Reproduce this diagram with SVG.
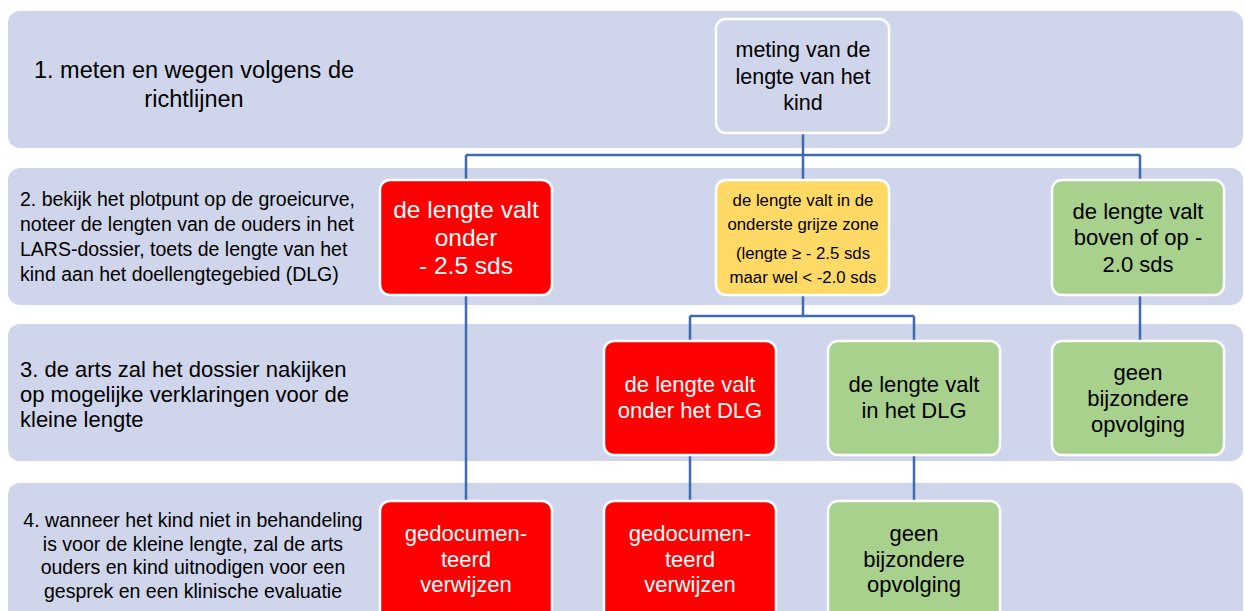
<svg xmlns="http://www.w3.org/2000/svg" width="1245" height="611" viewBox="0 0 1245 611">
<style>
.band{fill:#CFD5EA;}
.node{stroke:#FFFFFF;stroke-width:2.5;}
.red{fill:#FF0000;}
.green{fill:#A9D18E;}
.yellow{fill:#FFD966;}
.blue{fill:#CFD5EA;}
text{font-family:"Liberation Sans",Arial,sans-serif;}
.w{fill:#FFFFFF;}
.k{fill:#000000;}
.c{text-anchor:middle;}
.conn{fill:none;stroke:#3F68B5;stroke-width:2.5;}
</style>
<rect width="1245" height="611" fill="#FFFFFF"/>
<g id="bands">
<rect class="band" x="8" y="11" width="1235" height="137" rx="12"/>
<rect class="band" x="8" y="168" width="1235" height="137" rx="12"/>
<rect class="band" x="8" y="324" width="1235" height="137" rx="12"/>
<rect class="band" x="8" y="483" width="1235" height="150" rx="12"/>
</g>
<g id="step1">
<text class="k c" x="194" y="78" font-size="23.5">1. meten en wegen volgens de</text>
<text class="k c" x="194" y="107" font-size="23.5">richtlijnen</text>
</g>
<g id="step2" font-size="19.5">
<text class="k" x="20" y="206">2. bekijk het plotpunt op de groeicurve,</text>
<text class="k" x="20" y="231">noteer de lengten van de ouders in het</text>
<text class="k" x="20" y="256">LARS-dossier, toets de lengte van het</text>
<text class="k" x="20" y="281">kind aan het doellengtegebied (DLG)</text>
</g>
<g id="step3" font-size="22">
<text class="k" x="20" y="377">3. de arts zal het dossier nakijken</text>
<text class="k" x="20" y="402">op mogelijke verklaringen voor de</text>
<text class="k" x="20" y="427">kleine lengte</text>
</g>
<g id="step4" font-size="19.5">
<text class="k c" x="193" y="527">4. wanneer het kind niet in behandeling</text>
<text class="k c" x="193" y="551">is voor de kleine lengte, zal de arts</text>
<text class="k c" x="193" y="574">ouders en kind uitnodigen voor een</text>
<text class="k c" x="193" y="598">gesprek en een klinische evaluatie</text>
</g>
<g id="connectors">
<path class="conn" d="M803 133 V180 M466 155 H1140 M466 155 V180 M1140 155 V180"/>
<path class="conn" d="M466 295 V501"/>
<path class="conn" d="M803 295 V316 M690 316 H914 M690 316 V341 M914 316 V341"/>
<path class="conn" d="M690 455 V501"/>
<path class="conn" d="M914 455 V501"/>
<path class="conn" d="M1140 295 V341"/>
</g>
<g id="n-meting">
<rect class="node blue" x="716" y="19" width="173" height="114" rx="10"/>
<text class="k c" x="803" y="57" font-size="21.5">meting van de</text>
<text class="k c" x="803" y="84" font-size="21.5">lengte van het</text>
<text class="k c" x="803" y="110" font-size="21.5">kind</text>
</g>
<g id="n-onder25">
<rect class="node red" x="380" y="180" width="172" height="115" rx="10"/>
<text class="w c" x="466" y="218" font-size="24.5">de lengte valt</text>
<text class="w c" x="466" y="246" font-size="24.5">onder</text>
<text class="w c" x="466" y="274" font-size="24.5">- 2.5 sds</text>
</g>
<g id="n-grijs">
<rect class="node yellow" x="716" y="180" width="173" height="115" rx="10"/>
<text class="k c" x="803" y="206" font-size="16.8">de lengte valt in de</text>
<text class="k c" x="803" y="230" font-size="16.8">onderste grijze zone</text>
<text class="k c" x="803" y="259" font-size="16.8">(lengte ≥ - 2.5 sds</text>
<text class="k c" x="803" y="283" font-size="16.8">maar wel &lt; -2.0 sds</text>
</g>
<g id="n-boven20">
<rect class="node green" x="1052" y="180" width="172" height="115" rx="10"/>
<text class="k c" x="1138" y="219" font-size="22">de lengte valt</text>
<text class="k c" x="1138" y="245" font-size="22">boven of op -</text>
<text class="k c" x="1138" y="272" font-size="22">2.0 sds</text>
</g>
<g id="n-onderDLG">
<rect class="node red" x="604" y="341" width="172" height="114" rx="10"/>
<text class="w c" x="690" y="392" font-size="22">de lengte valt</text>
<text class="w c" x="690" y="418" font-size="22">onder het DLG</text>
</g>
<g id="n-inDLG">
<rect class="node green" x="828" y="341" width="172" height="114" rx="10"/>
<text class="k c" x="914" y="392" font-size="22">de lengte valt</text>
<text class="k c" x="914" y="418" font-size="22">in het DLG</text>
</g>
<g id="n-geen1">
<rect class="node green" x="1052" y="341" width="172" height="114" rx="10"/>
<text class="k c" x="1138" y="380" font-size="22">geen</text>
<text class="k c" x="1138" y="406" font-size="22">bijzondere</text>
<text class="k c" x="1138" y="432" font-size="22">opvolging</text>
</g>
<g id="n-verwijzen1">
<rect class="node red" x="380" y="501" width="172" height="120" rx="10"/>
<text class="w c" x="466" y="541" font-size="22">gedocumen-</text>
<text class="w c" x="466" y="567" font-size="22">teerd</text>
<text class="w c" x="466" y="592" font-size="22">verwijzen</text>
</g>
<g id="n-verwijzen2">
<rect class="node red" x="604" y="501" width="172" height="120" rx="10"/>
<text class="w c" x="690" y="541" font-size="22">gedocumen-</text>
<text class="w c" x="690" y="567" font-size="22">teerd</text>
<text class="w c" x="690" y="592" font-size="22">verwijzen</text>
</g>
<g id="n-geen2">
<rect class="node green" x="828" y="501" width="172" height="120" rx="10"/>
<text class="k c" x="914" y="541" font-size="22">geen</text>
<text class="k c" x="914" y="567" font-size="22">bijzondere</text>
<text class="k c" x="914" y="592" font-size="22">opvolging</text>
</g>
</svg>
